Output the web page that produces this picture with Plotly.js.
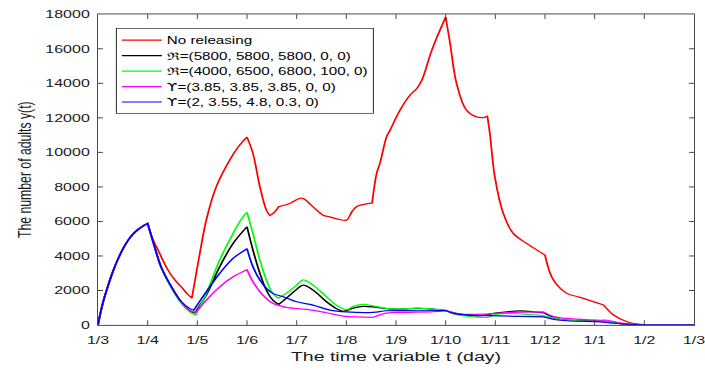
<!DOCTYPE html>
<html>
<head>
<meta charset="utf-8">
<script src="https://cdn.plot.ly/plotly-3.0.1.min.js"></script>
<style>
html,body{margin:0;padding:0;background:#fff;}
#wrap{width:705px;height:370px;overflow:hidden;position:relative;}
#plot{width:705px;height:544px;transform:scaleY(0.68);transform-origin:0 0;}
</style>
</head>
<body>
<div id="wrap"><div id="plot"></div></div>
<script>
// x positions are months after 1/3 (0 = 1/3, 12 = 1/3 of the next year)
const tickVals = [0,1,2,3,4,5,6,7,8,9,10,11,12];
const tickText = ['1/3','1/4','1/5','1/6','1/7','1/8','1/9','1/10','1/11','1/12','1/1','1/2','1/3'];
const yTicks = [0,2000,4000,6000,8000,10000,12000,14000,16000,18000];

const UPS = '<span style="font-family:DejaVu Sans">\u03D2</span>';
const seriesNames = [
  'No releasing',
  '\u211C=(5800, 5800, 5800, 0, 0)',
  '\u211C=(4000, 6500, 6800, 100, 0)',
  UPS + '=(3.85, 3.85, 3.85, 0, 0)',
  UPS + '=(2, 3.55, 4.8, 0.3, 0)'
];
const seriesColors = ['#ff0000','#000000','#00ff00','#ff00ff','#0000ff'];

// common rise before the first release (1/3 -> 1/4)
const tStart = [0,0.05,0.1,0.2,0.3,0.4,0.5,0.6,0.7,0.8,0.9,1.0];
const yStart = [0,700,1300,2250,3100,3800,4400,4880,5250,5520,5720,5880];

const tRed = [1.1,1.21,1.41,1.55,1.68,1.8,1.89,2.05,2.18,2.38,2.65,2.85,3.0,3.12,3.26,3.39,3.46,3.56,3.64,3.86,4.1,4.33,4.53,4.67,4.85,5.0,5.12,5.22,5.38,5.52,5.61,5.68,5.81,5.88,6.08,6.28,6.42,6.52,6.72,7.0,7.09,7.22,7.42,7.62,7.76,7.84,7.89,7.99,8.16,8.36,8.63,9.0,9.17,9.44,9.71,10.18,10.38,10.65,10.92,11.2,12];
const yRed = [5000,4340,3180,2600,2200,1800,1560,4150,6076,8003,9549,10417,10880,9936,8003,6655,6340,6557,6860,7043,7350,6846,6366,6267,6120,6076,6600,6880,7000,7080,8780,9400,10897,11285,12442,13310,13698,14178,15914,17841,16302,13987,12442,12056,12020,12095,11094,8582,6464,5307,4728,4051,2604,1834,1603,1157,579,191,40,0,0];
const kinksRed = [1.0,1.89,3.0,3.46,3.64,5.52,6.42,7.0,7.84,9.0,10.18,11.2];

const tBlack = [1.14,1.27,1.48,1.68,1.85,1.95,2.18,2.45,2.72,3.0,3.12,3.26,3.39,3.52,3.64,3.79,4.0,4.13,4.33,4.6,4.8,4.94,5.14,5.34,5.61,5.94,6.42,6.75,7.0,7.29,7.69,7.96,8.23,8.5,8.97,9.3,9.98,10.25,10.51,10.9,12];
const yBlack = [4530,3370,2180,1300,820,700,1736,3376,4728,5692,4340,2992,2025,1447,1198,1545,2066,2315,2025,1349,950,793,984,1082,1024,926,960,926,840,637,538,677,770,822,706,336,243,220,87,0,0];
const kinksBlack = [1.0,1.95,3.0,3.64,7.0,8.97,10.9];

const tGreen = [1.14,1.27,1.48,1.68,1.85,1.97,2.18,2.45,2.72,2.92,3.0,3.12,3.26,3.39,3.52,3.63,3.79,4.0,4.13,4.33,4.6,4.8,5.0,5.14,5.34,5.54,5.81,6.08,6.42,6.75,7.0,7.22,7.56,7.83,8.03,8.3,8.97,9.17,9.4,10.0,10.25,10.51,10.9,12];
const yGreen = [4500,3330,2140,1250,750,590,1834,3762,5307,6267,6520,5307,3762,2604,1834,1560,1834,2315,2620,2315,1638,1150,885,1082,1198,1117,966,926,984,926,840,596,480,446,637,680,540,417,290,230,210,80,0,0];
const kinksGreen = [1.0,1.97,3.0,3.63,7.0,8.97,10.9];

const tMagenta = [1.14,1.27,1.48,1.68,1.85,1.97,2.18,2.45,2.72,3.0,3.12,3.32,3.52,3.79,4.2,4.6,4.94,5.54,5.81,6.21,6.75,7.0,7.29,7.83,8.36,8.97,9.2,10.11,10.25,10.51,10.9,12];
const yMagenta = [4530,3370,2200,1320,850,735,1447,2216,2795,3200,2506,1736,1256,1024,909,712,521,446,694,735,770,840,637,637,735,764,475,278,278,127,0,0];
const kinksMagenta = [1.0,1.97,3.0,5.54,7.0,8.97,10.9];

const tBlue = [1.14,1.27,1.48,1.68,1.85,1.93,2.18,2.45,2.72,3.0,3.12,3.26,3.39,3.52,3.73,4.0,4.33,4.67,5.0,5.54,5.81,6.48,7.0,7.15,7.49,8.09,8.97,9.3,10.11,10.31,10.78,11.0,12];
const yBlue = [4530,3370,2216,1350,950,868,1929,2992,3859,4420,3374,2604,2124,1834,1638,1349,1157,868,760,735,828,828,850,677,579,532,475,278,185,127,30,0,0];
const kinksBlue = [1.0,1.93,3.0,7.0,8.97,11.0];

const seriesT = [tRed,tBlack,tGreen,tMagenta,tBlue];
const seriesY = [yRed,yBlack,yGreen,yMagenta,yBlue];
const seriesKinks = [kinksRed,kinksBlack,kinksGreen,kinksMagenta,kinksBlue];

// repeat a sample at a kink so the spline keeps a sharp corner there
function withKinks(t, y, kinks) {
  const xs = [], ys = [];
  t.forEach((v, i) => {
    xs.push(v); ys.push(y[i]);
    if (kinks.some(k => Math.abs(k - v) < 1e-9)) { xs.push(v); ys.push(y[i]); }
  });
  return {x: xs, y: ys};
}

const FONT = 'Liberation Sans, Arial, Helvetica, sans-serif';
const traces = seriesT.map((t,i) => {
  const d = withKinks(tStart.concat(t), yStart.concat(seriesY[i]), seriesKinks[i]);
  return {
    type:'scatter', mode:'lines', name: seriesNames[i], x: d.x, y: d.y,
    line:{color: seriesColors[i], width:1.8, shape:'spline', smoothing:1, simplify:false}
  };
});

const axisCommon = {
  showline:true, linecolor:'#262626', linewidth:1, mirror:'ticks',
  ticks:'inside', tickcolor:'#262626', showgrid:false, zeroline:false,
  ticklabeloverflow:'allow',
  tickfont:{family:FONT, size:16, color:'#1a1a1a'}
};

const layout = {
  width:705, height:544,
  margin:{l:98, r:11, t:21, b:66},
  paper_bgcolor:'#fff', plot_bgcolor:'#fff',
  showlegend:true,
  legend:{x:0.03, y:0.955, xanchor:'left', yanchor:'top',
    bgcolor:'#fff', bordercolor:'#262626', borderwidth:1,
    font:{family:FONT, size:15.2, color:'#000'}, itemwidth:40},
  xaxis:Object.assign({}, axisCommon, {
    range:[0,12], tickmode:'array', tickvals:tickVals, ticktext:tickText,
    ticklen:7, ticklabelstandoff:8,
    title:{text:'The time variable t (day)', font:{family:FONT, size:19.5, color:'#1a1a1a'}, standoff:8}
  }),
  yaxis:Object.assign({}, axisCommon, {
    range:[0,18000], tickmode:'array', tickvals:yTicks, tickformat:'d',
    ticklen:5, ticklabelstandoff:4,
    title:{text:'The number of adults y(t)', font:{family:FONT, size:18, color:'#1a1a1a'}, standoff:8}
  })
};

Plotly.newPlot('plot', traces, layout, {staticPlot:true, displayModeBar:false});
</script>
</body>
</html>
